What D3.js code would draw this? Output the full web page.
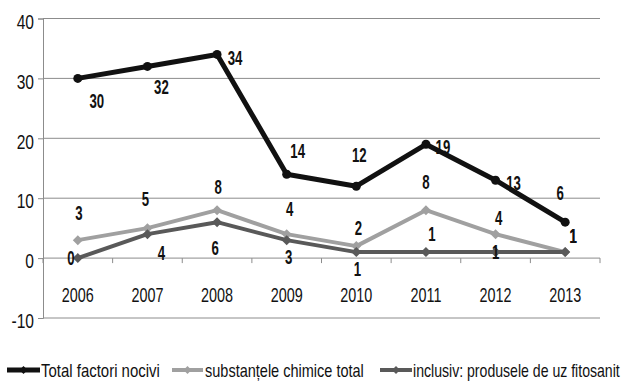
<!DOCTYPE html>
<html>
<head>
<meta charset="utf-8">
<script src="https://cdn.jsdelivr.net/npm/d3@7/dist/d3.min.js"></script>
<style>
  body { margin: 0; background: #fff; }
  svg { display: block; }
  text { font-family: "Liberation Sans", Arial, sans-serif; }
</style>
</head>
<body>
<svg id="chart" width="624" height="384"></svg>
<script>
const years = ["2006", "2007", "2008", "2009", "2010", "2011", "2012", "2013"];
const totalFactori = [30, 32, 34, 14, 12, 19, 13, 6];
const substanteChimice = [3, 5, 8, 4, 2, 8, 4, 1];
const produseFitosanitare = [0, 4, 6, 3, 1, 1, 1, 1];
const yTicks = [-10, 0, 10, 20, 30, 40];
const seriesNames = ["Total factori nocivi", "substanțele chimice total", "inclusiv: produsele de uz fitosanit"];

// label offsets (dx, dy) relative to each point, per series
const labelOffsets = [
  [[19, 22], [14, 20], [18, 3], [11, -23], [3, -31], [17, 2], [18, 3], [-5, -29]],
  [[1, -27], [-2, -29], [1, -23], [3, -25], [2, -18], [0, -28], [3, -16], [8, -16]],
  [[-7, 0], [14, 19], [-2, 26], [2, 17], [1, 17], [6, -18], [0, 0], [8, -16]]
];

const series = [
  { name: seriesNames[0], values: totalFactori, color: "#111111", width: 5, marker: "circle", r: 4.5 },
  { name: seriesNames[1], values: substanteChimice, color: "#a0a0a0", width: 4, marker: "diamond", r: 5 },
  { name: seriesNames[2], values: produseFitosanitare, color: "#595959", width: 4, marker: "diamond", r: 5 }
];

const svg = d3.select("#chart");
const plot = { left: 43, right: 600, top: 18.5, bottom: 318 };

const x = d3.scaleBand().domain(years).range([plot.left, plot.right]);
const y = d3.scaleLinear().domain([-10, 40]).range([plot.bottom, plot.top]);
const cx = d => x(d) + x.bandwidth() / 2;

// places horizontally condensed text centred on (px, py)
function label(parent, px, py, str, opts = {}) {
  return parent.append("text")
    .attr("transform", `translate(${px},${py}) scale(${opts.squeeze || 0.76},1)`)
    .attr("text-anchor", opts.anchor || "middle")
    .attr("dy", "0.36em")
    .attr("font-size", opts.size || 19)
    .attr("font-weight", opts.weight || "normal")
    .attr("fill", "#111")
    .text(str);
}

// horizontal gridlines
svg.append("g").selectAll("line").data(yTicks).join("line")
  .attr("x1", plot.left).attr("x2", plot.right)
  .attr("y1", d => y(d)).attr("y2", d => y(d))
  .attr("stroke", "#8c8c8c").attr("stroke-width", 1);

// value axis
const yAxis = svg.append("g").attr("transform", `translate(${plot.left},0)`)
  .call(d3.axisLeft(y).tickValues(yTicks).tickSize(5).tickFormat(""));
yAxis.select(".domain").attr("stroke", "#8c8c8c");
yAxis.selectAll(".tick line").attr("stroke", "#8c8c8c");
const yLab = svg.append("g");
yTicks.forEach(t => label(yLab, plot.left - 9, y(t) + 3, t, { anchor: "end", size: 20, squeeze: 0.78 }));

// category axis on the zero line, ticks at band edges
const edges = years.map(d => x(d)).concat([x(years[years.length - 1]) + x.bandwidth()]);
svg.append("g").selectAll("line").data(edges).join("line")
  .attr("x1", d => d).attr("x2", d => d)
  .attr("y1", y(0)).attr("y2", y(0) + 5)
  .attr("stroke", "#8c8c8c");
const xLab = svg.append("g");
years.forEach(d => label(xLab, cx(d), y(0) + 37, d, { size: 20, squeeze: 0.72 }));

const line = d3.line().x((v, i) => cx(years[i])).y(v => y(v));
const diamond = r => `M0,${-r}L${r},0L0,${r}L${-r},0Z`;

// lines and markers
series.forEach(s => {
  svg.append("path").datum(s.values)
    .attr("d", line).attr("fill", "none")
    .attr("stroke", s.color).attr("stroke-width", s.width)
    .attr("stroke-linejoin", "round");
  const g = svg.append("g");
  if (s.marker === "circle") {
    g.selectAll("circle").data(s.values).join("circle")
      .attr("cx", (v, i) => cx(years[i])).attr("cy", v => y(v))
      .attr("r", s.r).attr("fill", s.color);
  } else {
    g.selectAll("path").data(s.values).join("path")
      .attr("transform", (v, i) => `translate(${cx(years[i])},${y(v)})`)
      .attr("d", diamond(s.r)).attr("fill", s.color);
  }
});

// data labels
series.forEach((s, si) => {
  const g = svg.append("g");
  s.values.forEach((v, i) => {
    label(g, cx(years[i]) + labelOffsets[si][i][0], y(v) + labelOffsets[si][i][1], v,
      { size: 20, weight: "bold", squeeze: 0.66 });
  });
});

// legend: each entry's text is scaled to its slot width
const legendItems = [
  { x: 7, w: 33, tx: 41, tw: 119 },
  { x: 172, w: 31, tx: 205, tw: 159 },
  { x: 380, w: 32, tx: 413, tw: 207 }
];
const legendY = 370;
series.forEach((s, i) => {
  const it = legendItems[i];
  const g = svg.append("g");
  g.append("line").attr("x1", it.x).attr("x2", it.x + it.w)
    .attr("y1", legendY).attr("y2", legendY)
    .attr("stroke", s.color).attr("stroke-width", s.width);
  g.append("path").attr("transform", `translate(${it.x + it.w / 2},${legendY})`)
    .attr("d", diamond(4)).attr("fill", s.color);
  const t = g.append("text").attr("dy", "0.36em")
    .attr("font-size", 17.5).attr("fill", "#111")
    .text(s.name);
  const natural = t.node().getComputedTextLength();
  t.attr("transform", `translate(${it.tx},${legendY + 1}) scale(${it.tw / natural},1)`);
});
</script>
</body>
</html>
